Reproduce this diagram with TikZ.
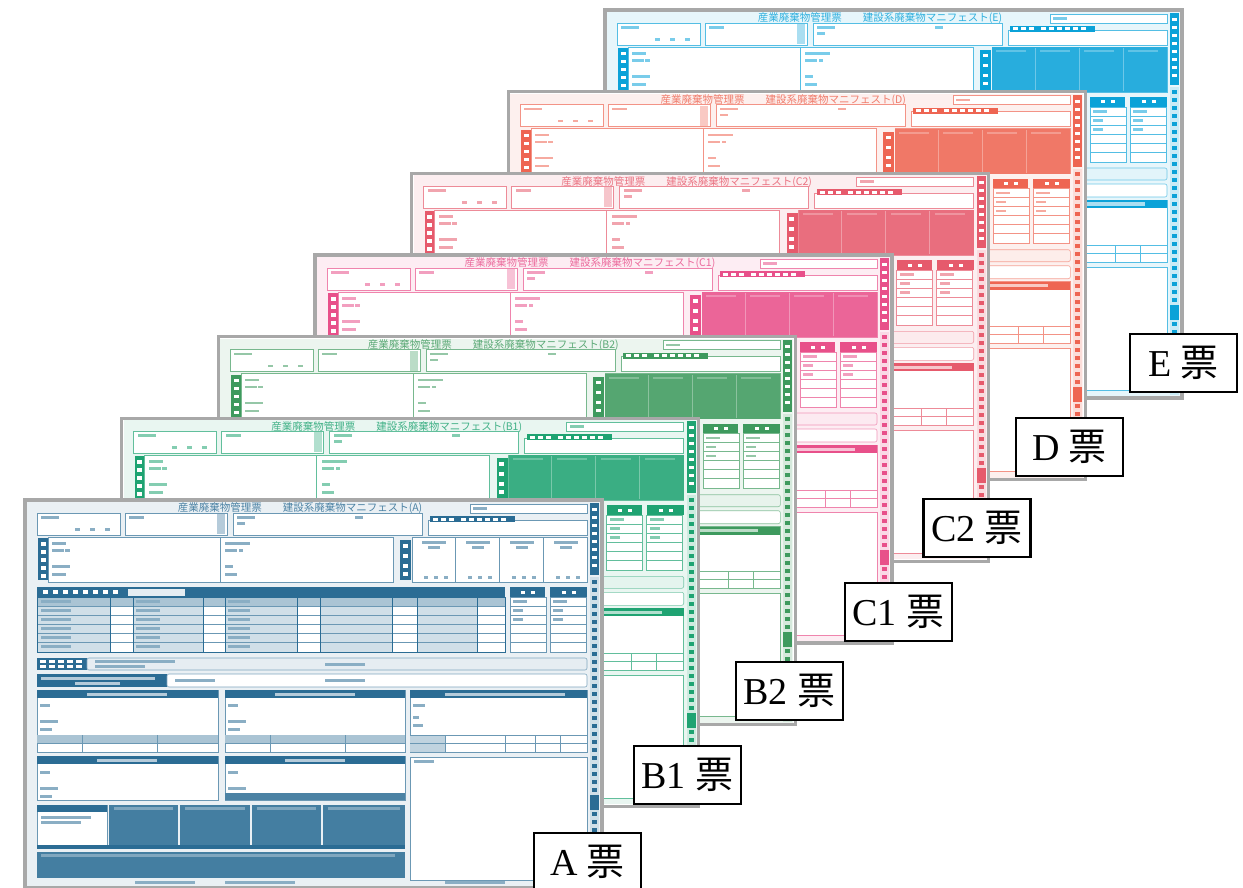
\documentclass[tikz,border=0pt]{standalone}
\usepackage{fontspec}
\setmainfont{Liberation Serif}
\newfontfamily\cjk{Noto Sans CJK JP}
\definecolor{colA}{HTML}{2B6C94}
\definecolor{colBa}{HTML}{1FA372}
\definecolor{colBb}{HTML}{3E9A5E}
\definecolor{colCa}{HTML}{E8508A}
\definecolor{colCb}{HTML}{E65A6C}
\definecolor{colD}{HTML}{EE6552}
\definecolor{colE}{HTML}{0BA2D8}
\definecolor{edgegray}{HTML}{A8A8A8}

\tikzset{
  box/.style={fill=white, draw=mc!70, line width=0.6pt},
  sheetedge/.style={draw=edgegray, line width=3.2pt},
  formtitle/.style={font=\cjk\fontsize{10.5}{11}\selectfont, text=mc!85, inner sep=0pt},
  tag/.style={draw=black, line width=2.2pt, fill=white, minimum width=107pt,
    minimum height=58pt, inner sep=0pt, font=\fontsize{38}{40}\selectfont},
}

% tiny printed captions on the form, drawn as short bars
\newcommand\tinymark[3]{\fill[mc!55] (#1,#2) rectangle ++(#3,2.6);}

% one manifest sheet: x, y, colour, sheet code, filled entry area (1/0)
\newcommand\manifest[5]{%
\begin{scope}[shift={(#1,#2)}]
  \colorlet{mc}{#3}
  \fill[white] (0,0) rectangle (577,388);
  \fill[mc!10] (2,2) rectangle (575,386);
  % title line
  \node[formtitle] (title#4) at (275,8.4) {産業廃棄物管理票\qquad 建設系廃棄物マニフェスト(#4)};
  \path[box] (445,4) rectangle (562,13);
  \tinymark{448}{7}{14}
  % first row of boxes
  \path[box] (12,13) rectangle (95,35);
  \tinymark{16}{16}{18}
  \tinymark{50}{28}{5}\tinymark{65}{28}{5}\tinymark{80}{28}{5}
  \path[box] (100,13) rectangle (202,35);
  \fill[mc!35] (192,14) rectangle (200,34);
  \tinymark{104}{16}{15}
  \path[box] (208,13) rectangle (397,35);
  \tinymark{212}{16}{18}\tinymark{212}{22}{8}\tinymark{330}{16}{8}
  \path[box] (403,20) rectangle (562,35);
  \fill[mc] (405,16) rectangle (490,22);
  \foreach \x in {408,416,424,436,444,452,460,468,476}{\fill[white] (\x,17.5) rectangle ++(5,3);}
  % second row: parties
  \fill[mc] (13,38) rectangle (23,80);
  \foreach \y in {42,50,58,66,74}{\fill[white] (15.5,\y) rectangle ++(5,3.5);}
  \path[box] (23,37) rectangle (195,82);
  \tinymark{27}{42}{14}\tinymark{27}{49}{12}\tinymark{40}{49}{5}\tinymark{27}{65}{18}\tinymark{27}{73}{14}
  \path[box] (195,37) rectangle (368,82);
  \tinymark{200}{42}{25}\tinymark{200}{49}{12}\tinymark{214}{49}{4}\tinymark{200}{65}{8}\tinymark{200}{73}{12}
  \fill[mc] (375,40) rectangle (386,80);
  \foreach \y in {44,54,64,72}{\fill[white] (377.5,\y) rectangle ++(5,3.5);}
  \path[box] (387,37) rectangle (562,82);
  \ifnum#5=1
    \fill[mc!88] (387,37) rectangle (562,82);
    \foreach \x in {430,474,518}{\draw[mc!60, line width=1pt] (\x,38)--(\x,81);}
    \foreach \x in {391,435,479,523}{\fill[mc!65] (\x,40) rectangle ++(30,2);}
  \else
    \foreach \x in {430,474,518}{\draw[mc!70, line width=0.6pt] (\x,37)--(\x,82);}
    \foreach \x in {397,441,485,529}{\tinymark{\x}{41}{24}\tinymark{\x+6}{46}{12}
      \tinymark{\x+2}{76}{4}\tinymark{\x+12}{76}{4}\tinymark{\x+22}{76}{4}}
  \fi
  % waste type table
  \fill[mc] (12,87) rectangle (480,97);
  \foreach \x in {18,28,38,48,58,68,78,88}{\fill[white] (\x,90) rectangle ++(5,4);}
  \fill[mc!12] (103,88.5) rectangle (160,95.5);
  \fill[mc] (485,87) rectangle (520,97);
  \fill[mc] (525,87) rectangle (562,97);
  \fill[white] (496,90.5) rectangle ++(4,3);\fill[white] (506,90.5) rectangle ++(4,3);
  \fill[white] (537,90.5) rectangle ++(4,3);\fill[white] (547,90.5) rectangle ++(4,3);
  \path[box] (12,97) rectangle (480,152);
  \foreach \a/\b in {13/85,108/178,200/272,295/367,392/452}{\fill[mc!22] (\a,97) rectangle (\b,152);}
  \fill[mc!40] (12,97) rectangle (480,106);
  \foreach \y in {106,115,124,133,142}{\draw[mc!70, line width=0.5pt] (12,\y)--(480,\y);}
  \foreach \x in {85,108,178,200,272,295,367,392,452}{\draw[mc, line width=0.8pt] (\x,97)--(\x,152);}
  \draw[mc, line width=0.8pt] (12,97) rectangle (480,152);
  \foreach \y in {100,109,118,127,136,145}{\tinymark{16}{\y}{30}\tinymark{111}{\y}{24}\tinymark{203}{\y}{22}}
  \foreach \a in {485,525}{
    \path[box] (\a,97) rectangle (\a+36,152);
    \foreach \y in {106,115,124,133,142}{\draw[mc!70, line width=0.5pt] (\a,\y)--(\a+36,\y);}
    \tinymark{\a+3}{100}{14}\tinymark{\a+3}{109}{10}\tinymark{\a+3}{118}{10}}
  % notes rows
  \fill[mc] (12,158) rectangle (62,170);
  \foreach \x in {15,24,33,42,51}{\fill[white] (\x,160) rectangle ++(6,3);\fill[white] (\x,165) rectangle ++(6,3);}
  \draw[mc!60, fill=mc!12, line width=0.6pt, rounded corners=2pt] (62,158) rectangle (562,170);
  \tinymark{70}{160}{80}\tinymark{70}{165}{50}\tinymark{300}{163}{40}
  \fill[mc] (12,174) rectangle (142,187);
  \fill[mc!35] (16,177) rectangle (130,179.5);\fill[mc!35] (50,182) rectangle (95,184.5);
  \draw[mc!60, fill=white, line width=0.6pt, rounded corners=2pt] (142,174) rectangle (562,187);
  \tinymark{150}{179}{40}\tinymark{300}{179}{40}
  % transport and disposal blocks
  \foreach \a/\b in {12/193,200/380}{
    \path[box] (\a,190) rectangle (\b,252);
    \fill[mc] (\a,190) rectangle (\b,198);
    \fill[mc!35] (\a+50,192.5) rectangle (\a+130,195.5);
    \fill[mc!40] (\a,235) rectangle (\b,243);
    \draw[mc!70, line width=0.5pt] (\a,243)--(\b,243);
    \draw[mc!70, line width=0.5pt] (\a+45,235)--(\a+45,252);
    \draw[mc!70, line width=0.5pt] (\a+120,235)--(\a+120,252);
    \tinymark{\a+3}{204}{10}\tinymark{\a+3}{220}{18}\tinymark{\a+3}{228}{12}
    \path[box] (\a,256) rectangle (\b,300);
    \fill[mc] (\a,256) rectangle (\b,264);
    \fill[mc!35] (\a+60,258.5) rectangle (\a+120,261.5);
    \tinymark{\a+3}{271}{10}\tinymark{\a+3}{287}{18}\tinymark{\a+3}{295}{12}}
  \fill[mc!85] (200,293) rectangle (380,300);
  \path[box] (385,190) rectangle (562,252);
  \fill[mc] (385,190) rectangle (562,198);
  \fill[mc!35] (420,192.5) rectangle (540,195.5);
  \fill[mc!30] (385,235) rectangle (420,252);
  \foreach \y in {243}{\draw[mc!70, line width=0.5pt] (385,\y)--(562,\y);}
  \foreach \x in {420,480,510,535}{\draw[mc!70, line width=0.5pt] (\x,235)--(\x,252);}
  \draw[mc!70, line width=0.5pt] (385,235)--(562,235);
  \tinymark{388}{204}{12}\tinymark{388}{216}{6}\tinymark{388}{224}{10}
  \path[box] (385,257) rectangle (562,380);
  \tinymark{389}{260}{20}
  % registration blocks
  \path[box] (12,305) rectangle (82,345);
  \fill[mc] (12,305) rectangle (82,312);
  \tinymark{16}{316}{50}\tinymark{16}{321}{40}
  \foreach \a/\b in {84/153,155/225,227/296,298/380}{
    \fill[mc!88] (\a,305) rectangle (\b,345);
    \fill[mc!60] (\a+5,307) rectangle (\b-5,310);}
  \fill[mc] (12,345) rectangle (380,349);
  \fill[mc!88] (12,352) rectangle (380,378);
  \fill[mc!60] (16,354) rectangle (370,357);
  \tinymark{110}{381}{60}\tinymark{200}{381}{70}\tinymark{420}{381}{60}
  % perforation strip
  \fill[mc] (565,3) rectangle (574,75);
  \foreach \y in {8,16,...,68}{\fill[white] (567,\y) rectangle ++(5,3);}
  \fill[mc!22] (565,77) rectangle (574,385);
  \foreach \y in {80,88,...,376}{\fill[mc] (567,\y) rectangle ++(5,4);}
  \fill[mc] (565,295) rectangle (574,310);
  \draw[sheetedge] (0,0) rectangle (577,388);
\end{scope}}

\begin{document}
\begin{tikzpicture}[x=1pt, y=-1pt]
  \useasboundingbox (0,0) rectangle (1243,888);
  \clip (0,0) rectangle (1243,888);
  \fill[white] (0,0) rectangle (1243,888);
  % sheets, back to front
  \manifest{605}{10}{colE}{E}{1}
  \manifest{508.3}{91.7}{colD}{D}{1}
  \manifest{411.7}{173.3}{colCb}{C2}{1}
  \manifest{315}{255}{colCa}{C1}{1}
  \manifest{218.3}{336.7}{colBb}{B2}{1}
  \manifest{121.7}{418.3}{colBa}{B1}{1}
  \manifest{25}{500}{colA}{A}{0}
  % copy labels
  \node[tag] (tagE)  at (1183.5,363) {E \cjk{票}};
  \node[tag] (tagD)  at (1069.5,447) {D \cjk{票}};
  \node[tag] (tagC2) at (977,528)    {C2 \cjk{票}};
  \node[tag] (tagC1) at (898.5,612)  {C1 \cjk{票}};
  \node[tag] (tagB2) at (789.5,691)  {B2 \cjk{票}};
  \node[tag] (tagB1) at (687.5,775)  {B1 \cjk{票}};
  \node[tag] (tagA)  at (587.5,862)  {A \cjk{票}};
\end{tikzpicture}
\end{document}
